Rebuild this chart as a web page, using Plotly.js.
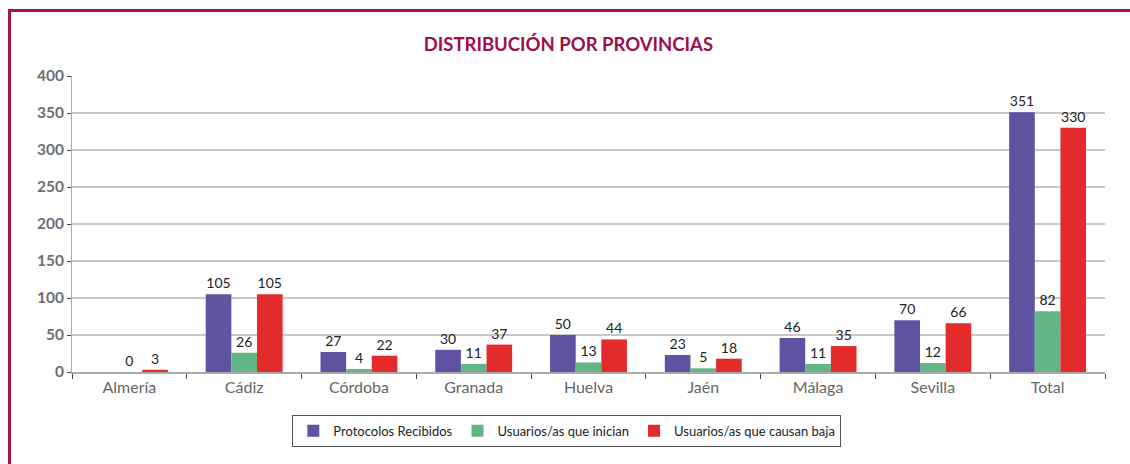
<!DOCTYPE html>
<html>
<head>
<meta charset="utf-8">
<script src="https://cdn.plot.ly/plotly-3.0.1.min.js"></script>
<style>
html,body{margin:0;padding:0;background:#fff;}
#wrap{position:relative;width:1130px;height:464px;overflow:hidden;}
#frame{position:absolute;left:8px;top:9px;width:1200px;height:600px;border-top:3px solid #a8104e;border-left:3px solid #a8104e;pointer-events:none;z-index:2;}
#chart{position:absolute;left:0;top:0;width:1130px;height:464px;}
</style>
</head>
<body>
<div id="wrap"><div id="chart"></div><div id="frame"></div></div>
<script>
const categories = ["Almería","Cádiz","Córdoba","Granada","Huelva","Jaén","Málaga","Sevilla","Total"];
const protocolos = [null,105,27,30,50,23,46,70,351];
const inician = [0,26,4,11,13,5,11,12,82];
const causanBaja = [3,105,22,37,44,18,35,66,330];
const seriesNames = ["Protocolos Recibidos","Usuarios/as que inician","Usuarios/as que causan baja"];
const colors = ["#5f52a0","#62b686","#e32b2b"];

const font = "Lato, 'Open Sans', sans-serif";
const data = [protocolos, inician, causanBaja].map((vals,i)=>({
  type:'bar', x:categories, y:vals, name:seriesNames[i],
  marker:{color:colors[i]},
  texttemplate:'%{y}', textposition:'outside', cliponaxis:false,
  textfont:{family:font,size:14,color:'#222'},
  hoverinfo:'none'
}));

const layout = {
  width:1130, height:464,
  margin:{l:72,r:25,t:76,b:92},
  paper_bgcolor:'#fff', plot_bgcolor:'#fff',
  barmode:'group', bargap:0.33, bargroupgap:0,
  title:{text:'<b>DISTRIBUCIÓN POR PROVINCIAS</b>', font:{family:font,size:18.5,color:'#9b0f4a'}, x:0.503, xanchor:'center', y:0.903, yanchor:'middle'},
  xaxis:{type:'category', showline:true, linecolor:'#aaa', linewidth:1.5,
    ticks:'outside', tickson:'boundaries', ticklen:5, tickcolor:'#444', tickwidth:1,
    tickfont:{family:font,size:16,color:'#666'}, showgrid:false},
  yaxis:{range:[0,400], dtick:50, showline:true, linecolor:'#aaa', linewidth:1,
    ticks:'outside', ticklen:4, tickcolor:'#444', tickwidth:1,
    gridcolor:'#c8c8c8', gridwidth:1.5, zeroline:false,
    tickfont:{family:font,size:15.5,color:'#6d6e71', weight:'bold'}},
  showlegend:true,
  legend:{orientation:'h', x:0.479, xanchor:'center', y:-0.145, yanchor:'top',
    bordercolor:'#555', borderwidth:1, font:{family:font,size:13,color:'#222'},
    itemwidth:30, tracegroupgap:0},
  font:{family:font}
};
Plotly.newPlot('chart', data, layout, {staticPlot:true});
</script>
</body>
</html>
